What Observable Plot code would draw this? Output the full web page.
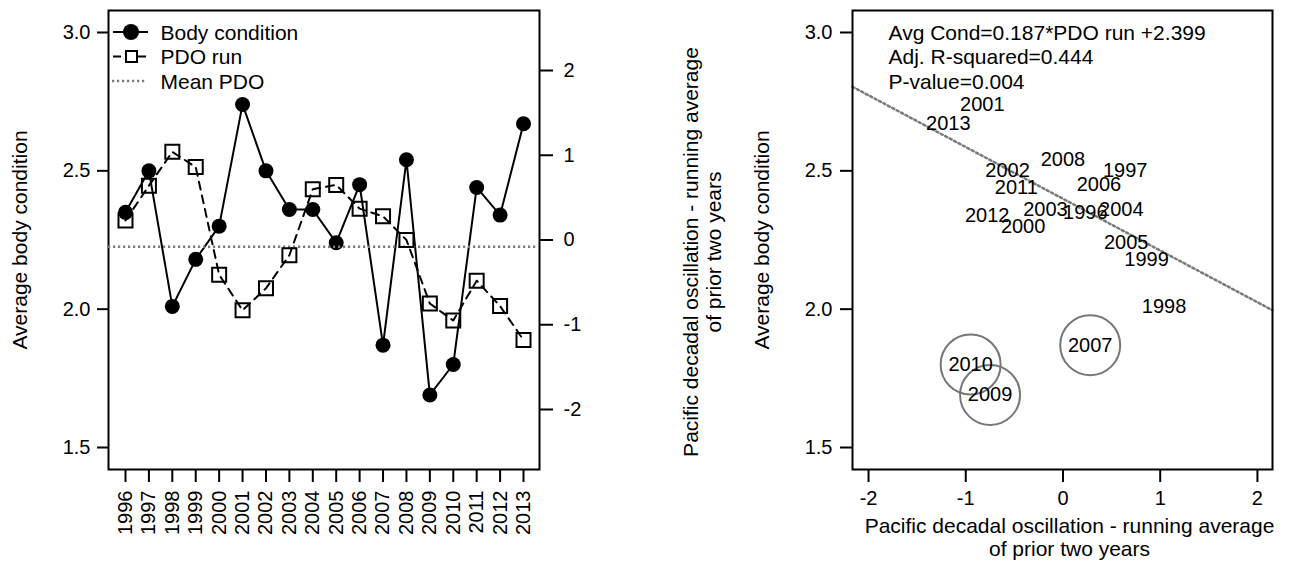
<!DOCTYPE html>
<html>
<head>
<meta charset="utf-8">
<script src="https://cdn.jsdelivr.net/npm/d3@7"></script>
<script src="https://cdn.jsdelivr.net/npm/@observablehq/plot@0.6"></script>
<style>
  html, body { margin: 0; padding: 0; background: #fff; }
  #wrap { position: relative; width: 1296px; height: 565px; overflow: hidden; background: #fff; }
  #wrap > svg { position: absolute; top: 0; }
</style>
</head>
<body>
<div id="wrap"></div>
<script>
// Survey years
const years = [1996, 1997, 1998, 1999, 2000, 2001, 2002, 2003, 2004,
               2005, 2006, 2007, 2008, 2009, 2010, 2011, 2012, 2013];
// Average body condition per year
const bodyCondition = [2.35, 2.50, 2.01, 2.18, 2.30, 2.74, 2.50, 2.36, 2.36,
                       2.24, 2.45, 1.87, 2.54, 1.69, 1.80, 2.44, 2.34, 2.67];
// PDO running average of the prior two years
const pdoRun = [0.23, 0.64, 1.04, 0.86, -0.41, -0.83, -0.57, -0.18, 0.60,
                0.65, 0.37, 0.28, 0.00, -0.75, -0.95, -0.48, -0.78, -1.18];
// Years circled as outliers in the regression panel
const outlierYears = [2007, 2009, 2010];

// Tick values
const conditionTicks = [1.5, 2.0, 2.5, 3.0];
const pdoTicks = [-2, -1, 0, 1, 2];

// Fitted regression
const fitSlope = -0.187;
const fitIntercept = 2.399;
const fitLines = ["Avg Cond=0.187*PDO run +2.399", "Adj. R-squared=0.444", "P-value=0.004"];

// Text
const legendLabels = ["Body condition", "PDO run", "Mean PDO"];
const conditionTitle = "Average body condition";
const pdoTitle = "Pacific decadal oscillation - running average\nof prior two years";

const rows = years.map((year, i) => ({year, cond: bodyCondition[i], pdo: pdoRun[i]}));
const meanPdo = d3.mean(pdoRun);

const font = '"Liberation Sans", Arial, sans-serif';
const baseStyle = {fontFamily: font, fontSize: "20px", background: "transparent", color: "black", overflow: "visible"};
const signed = d => (d < 0 ? "-" + Math.abs(d) : String(d));
const grey = "#7a7a7a";
const dotted = {stroke: grey, strokeWidth: 2.5, strokeDasharray: "2.2,2.8"};

const yearDomain = [1995.274, 2013.683];
const condDomain = [1.4205, 3.0795];
const pdoDomain = [-2.708, 2.708];

const leftFrame = {width: 730, height: 565, marginLeft: 108, marginRight: 191, marginTop: 10, marginBottom: 96};

// Left panel, body condition layer (left axis)
const condPlot = Plot.plot({
  ...leftFrame,
  style: baseStyle,
  x: {domain: yearDomain, label: null},
  y: {domain: condDomain, label: null},
  marks: [
    Plot.axisX(years, {tickRotate: -90, tickSize: 13, tickPadding: 8, tickFormat: d => String(d), strokeWidth: 2, label: null, fontSize: 20}),
    Plot.axisY(conditionTicks, {tickSize: 11, tickPadding: 7, tickFormat: d => d.toFixed(1), strokeWidth: 2, label: null, fontSize: 20}),
    Plot.line(rows, {x: "year", y: "cond", stroke: "black", strokeWidth: 2}),
    Plot.dot(rows, {x: "year", y: "cond", r: 7.5, fill: "black"}),
    Plot.frame({stroke: "black", strokeWidth: 2}),
    Plot.text([legendLabels.join("\n")], {text: d => d, frameAnchor: "top-left", dx: 52, dy: 12, textAnchor: "start", lineAnchor: "top", lineHeight: 1.167, fontSize: 21}),
    Plot.text([conditionTitle], {text: d => d, frameAnchor: "left", dx: -88, rotate: -90, textAnchor: "middle", lineAnchor: "middle", fontSize: 21})
  ]
});

// Left panel, PDO layer (right axis)
const pdoPlot = Plot.plot({
  ...leftFrame,
  style: baseStyle,
  x: {domain: yearDomain, axis: null},
  y: {domain: pdoDomain, label: null},
  marks: [
    Plot.axisY(pdoTicks, {anchor: "right", tickSize: 13, tickPadding: 11, tickFormat: signed, strokeWidth: 2, label: null, fontSize: 20}),
    Plot.ruleY([meanPdo], dotted),
    Plot.line(rows, {x: "year", y: "pdo", stroke: "black", strokeWidth: 2, strokeDasharray: "8,6"}),
    Plot.dot(rows, {x: "year", y: "pdo", symbol: "square", r: 7.9, stroke: "black", strokeWidth: 2, fill: "none"}),
    Plot.text([pdoTitle], {text: d => d, frameAnchor: "right", dx: 163, dy: 12, rotate: -90, textAnchor: "middle", lineAnchor: "middle", fontSize: 21, lineHeight: 1.1})
  ]
});

// Legend keys beside the legend labels
{
  const g = d3.select(condPlot).append("g").attr("stroke", "black").attr("stroke-width", 2).attr("fill", "none");
  const rowY = [32, 56.5, 81];
  g.append("line").attr("x1", 113).attr("x2", 148).attr("y1", rowY[0]).attr("y2", rowY[0]);
  g.append("circle").attr("cx", 131).attr("cy", rowY[0]).attr("r", 8).attr("fill", "black").attr("stroke", "none");
  g.append("line").attr("x1", 113).attr("x2", 121).attr("y1", rowY[1]).attr("y2", rowY[1]);
  g.append("line").attr("x1", 137).attr("x2", 146).attr("y1", rowY[1]).attr("y2", rowY[1]);
  g.append("rect").attr("x", 126).attr("y", rowY[1] - 5.5).attr("width", 11).attr("height", 11);
  g.append("line").attr("x1", 112).attr("x2", 147).attr("y1", rowY[2]).attr("y2", rowY[2])
    .attr("stroke", grey).attr("stroke-width", dotted.strokeWidth).attr("stroke-dasharray", dotted.strokeDasharray);
}

// Right panel: body condition against PDO run
const pdoXDomain = [-2.165, 2.155];
const fitLine = pdoXDomain.map(x => ({x, y: fitIntercept + fitSlope * x}));

const scatterPlot = Plot.plot({
  width: 566, height: 565, marginLeft: 122, marginRight: 24, marginTop: 10, marginBottom: 96,
  style: baseStyle,
  x: {domain: pdoXDomain, label: null},
  y: {domain: condDomain, label: null},
  marks: [
    Plot.axisX(pdoTicks, {tickSize: 13, tickPadding: 8, tickFormat: signed, strokeWidth: 2, label: null, fontSize: 20}),
    Plot.axisY(conditionTicks, {tickSize: 12, tickPadding: 8, tickFormat: d => d.toFixed(1), strokeWidth: 2, label: null, fontSize: 20}),
    Plot.line(fitLine, {x: "x", y: "y", ...dotted}),
    Plot.dot(rows.filter(d => outlierYears.includes(d.year)), {x: "pdo", y: "cond", r: 30, stroke: "#777", strokeWidth: 2, fill: "none"}),
    Plot.text(rows, {x: "pdo", y: "cond", text: d => String(d.year), fontSize: 20, fill: "black"}),
    Plot.frame({stroke: "black", strokeWidth: 2}),
    Plot.text([fitLines.join("\n")], {text: d => d, frameAnchor: "top-left", dx: 36, dy: 12, textAnchor: "start", lineAnchor: "top", lineHeight: 1.167, fontSize: 21}),
    Plot.text([conditionTitle], {text: d => d, frameAnchor: "left", dx: -90, rotate: -90, textAnchor: "middle", lineAnchor: "middle", fontSize: 21}),
    Plot.text([pdoTitle], {text: d => d, frameAnchor: "bottom", dx: 7, dy: 67.5, textAnchor: "middle", lineAnchor: "middle", fontSize: 21, lineHeight: 1.1})
  ]
});

const wrap = document.getElementById("wrap");
condPlot.style.left = "0px";
pdoPlot.style.left = "0px";
scatterPlot.style.left = "730px";
wrap.appendChild(condPlot);
wrap.appendChild(pdoPlot);
wrap.appendChild(scatterPlot);
</script>
</body>
</html>
